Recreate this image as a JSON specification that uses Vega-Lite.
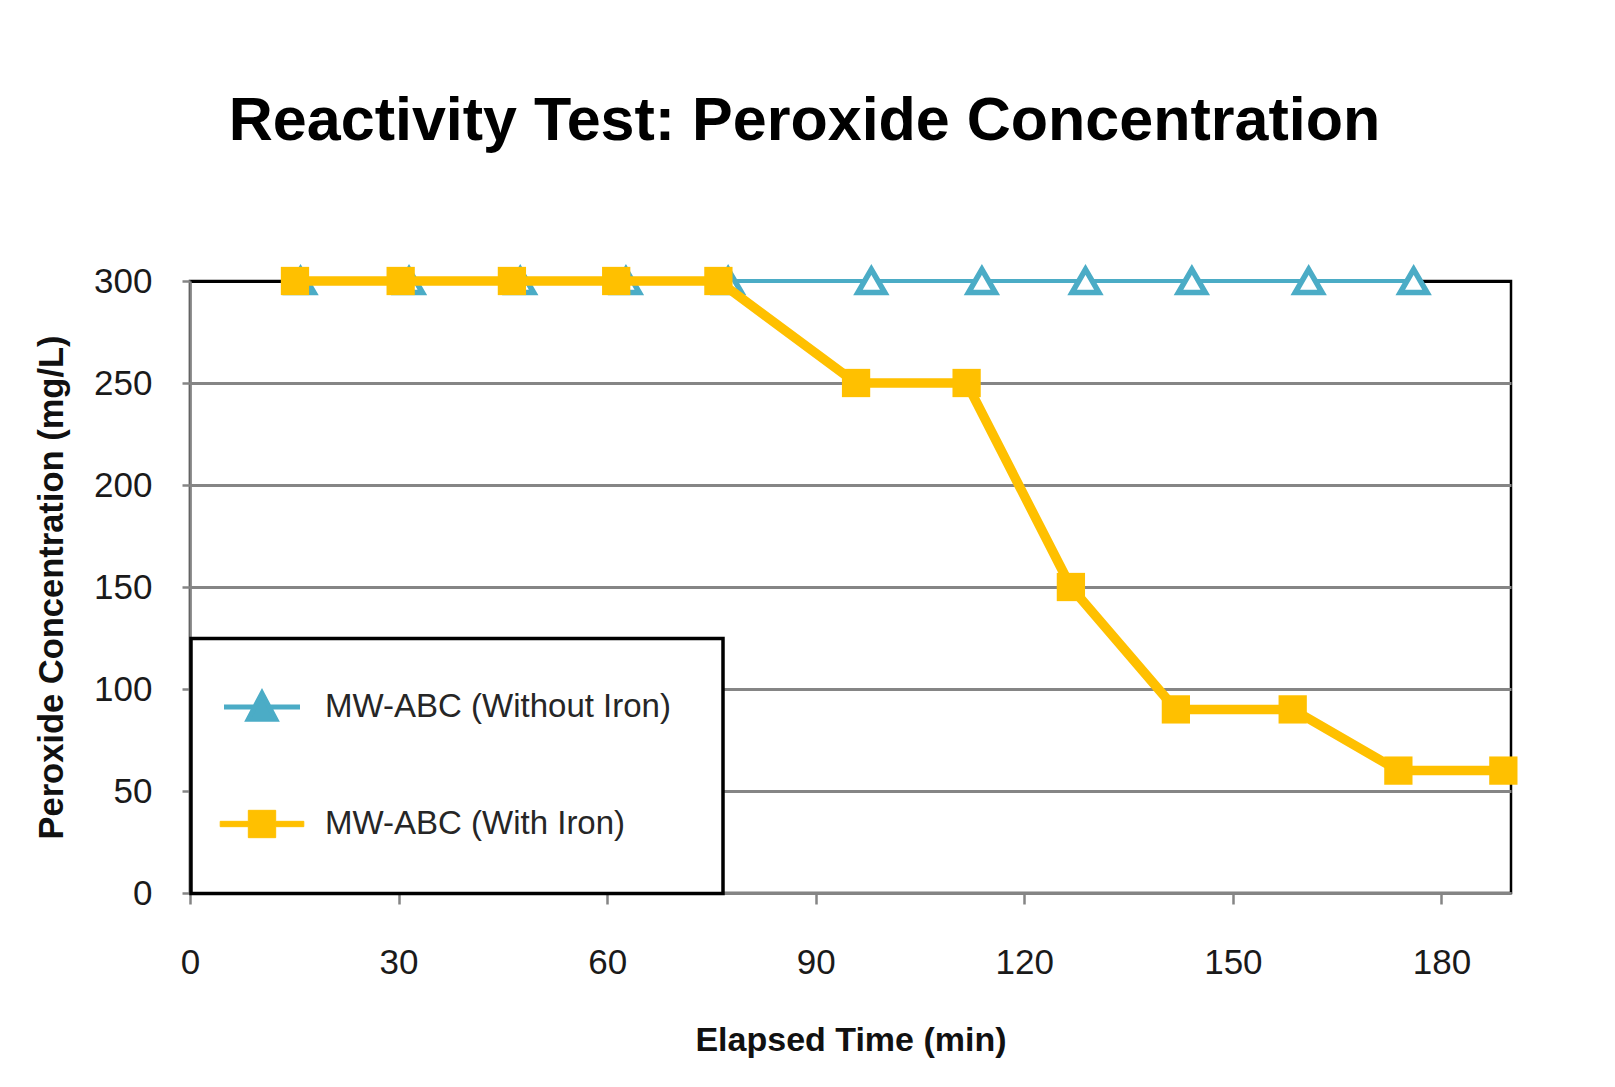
{
  "$schema": "https://vega.github.io/schema/vega-lite/v6.json",
  "width": 1321,
  "height": 612,
  "padding": {"left": 34, "top": 91, "right": 106, "bottom": 30},
  "background": "white",
  "title": {
    "text": "Reactivity Test: Peroxide Concentration",
    "font": "Liberation Sans",
    "fontSize": 61,
    "fontWeight": "bold",
    "color": "black",
    "anchor": "middle",
    "frame": "group",
    "dx": -46,
    "offset": 105
  },
  "data": {
    "values": [
      {"series": "MW-ABC (Without Iron)", "time": 15.9, "conc": 300},
      {"series": "MW-ABC (Without Iron)", "time": 31.5, "conc": 300},
      {"series": "MW-ABC (Without Iron)", "time": 47.5, "conc": 300},
      {"series": "MW-ABC (Without Iron)", "time": 62.7, "conc": 300},
      {"series": "MW-ABC (Without Iron)", "time": 77.4, "conc": 300},
      {"series": "MW-ABC (Without Iron)", "time": 98.0, "conc": 300},
      {"series": "MW-ABC (Without Iron)", "time": 113.9, "conc": 300},
      {"series": "MW-ABC (Without Iron)", "time": 128.8, "conc": 300},
      {"series": "MW-ABC (Without Iron)", "time": 144.1, "conc": 300},
      {"series": "MW-ABC (Without Iron)", "time": 160.9, "conc": 300},
      {"series": "MW-ABC (Without Iron)", "time": 176.0, "conc": 300},
      {"series": "MW-ABC (With Iron)", "time": 15.1, "conc": 300},
      {"series": "MW-ABC (With Iron)", "time": 30.3, "conc": 300},
      {"series": "MW-ABC (With Iron)", "time": 46.3, "conc": 300},
      {"series": "MW-ABC (With Iron)", "time": 61.3, "conc": 300},
      {"series": "MW-ABC (With Iron)", "time": 76.0, "conc": 300},
      {"series": "MW-ABC (With Iron)", "time": 95.8, "conc": 250},
      {"series": "MW-ABC (With Iron)", "time": 111.7, "conc": 250},
      {"series": "MW-ABC (With Iron)", "time": 126.7, "conc": 150},
      {"series": "MW-ABC (With Iron)", "time": 141.8, "conc": 90},
      {"series": "MW-ABC (With Iron)", "time": 158.6, "conc": 90},
      {"series": "MW-ABC (With Iron)", "time": 173.8, "conc": 60},
      {"series": "MW-ABC (With Iron)", "time": 188.9, "conc": 60}
    ]
  },
  "encoding": {
    "x": {
      "field": "time",
      "type": "quantitative",
      "scale": {"domain": [0, 190], "nice": false, "zero": false},
      "axis": {
        "title": "Elapsed Time (min)",
        "values": [0, 30, 60, 90, 120, 150, 180],
        "grid": false,
        "domainColor": "#858585",
        "domainWidth": 2.5,
        "tickColor": "#858585",
        "tickWidth": 2.5,
        "tickSize": 11,
        "labelPadding": 41,
        "labelFont": "Liberation Sans",
        "labelFontSize": 35,
        "labelColor": "#1a1a1a",
        "labelFlush": false,
        "titleFont": "Liberation Sans",
        "titleFontSize": 34,
        "titleFontWeight": "bold",
        "titleColor": "#111111",
        "titlePadding": 43
      }
    },
    "y": {
      "field": "conc",
      "type": "quantitative",
      "scale": {"domain": [0, 300], "nice": false},
      "axis": {
        "title": "Peroxide Concentration (mg/L)",
        "values": [0, 50, 100, 150, 200, 250, 300],
        "grid": true,
        "gridColor": {"condition": {"test": "datum.value === 300", "value": "black"}, "value": "#858585"},
        "gridWidth": 2.8,
        "domainColor": "#858585",
        "domainWidth": 2.5,
        "tickColor": "#858585",
        "tickWidth": 2.5,
        "tickSize": 8,
        "labelPadding": 30,
        "labelFont": "Liberation Sans",
        "labelFontSize": 35,
        "labelColor": "#1a1a1a",
        "labelFlush": false,
        "titleFont": "Liberation Sans",
        "titleFontSize": 34.5,
        "titleFontWeight": "bold",
        "titleColor": "#111111",
        "titlePadding": 24
      }
    },
    "color": {
      "field": "series",
      "type": "nominal",
      "scale": {
        "domain": ["MW-ABC (Without Iron)", "MW-ABC (With Iron)"],
        "range": ["#4BACC6", "#FFC000"]
      },
      "legend": {
        "title": null,
        "orient": "none",
        "legendX": 1,
        "legendY": 357.5,
        "fillColor": "white",
        "strokeColor": "black",
        "padding": 52,
        "rowPadding": 78,
        "symbolSize": 5776,
        "symbolOffset": 2.5,
        "labelOffset": 46.5,
        "labelFont": "Liberation Sans",
        "labelFontSize": 33,
        "labelColor": "#262626",
        "labelLimit": 600,
        "encode": {
          "legend": {
            "update": {
              "strokeWidth": {"value": 3.5}
            }
          },
          "symbols": {
            "update": {
              "shape": {"signal": "datum.value === 'MW-ABC (Without Iron)' ? 'M-1,0H-0.17M0.17,0H1M0,-0.36L0.36,0.32H-0.36Z' : 'M-1.1,-0.07H-0.36V-0.36H0.36V-0.07H1.1V0.07H0.36V0.36H-0.36V0.07H-1.1Z'"},
              "fill": {"signal": "datum.value === 'MW-ABC (Without Iron)' ? 'white' : '#FFC000'"},
              "stroke": {"signal": "datum.value === 'MW-ABC (Without Iron)' ? '#4BACC6' : '#FFC000'"},
              "strokeWidth": {"signal": "datum.value === 'MW-ABC (Without Iron)' ? 5 : 1"},
              "opacity": {"value": 1}
            }
          }
        }
      }
    }
  },
  "layer": [
    {
      "transform": [{"filter": "datum.series === 'MW-ABC (Without Iron)'"}],
      "mark": {"type": "line", "strokeWidth": 4}
    },
    {
      "transform": [{"filter": "datum.series === 'MW-ABC (Without Iron)'"}],
      "mark": {"type": "point", "shape": "triangle-up", "filled": false, "fill": "white", "strokeWidth": 5.5, "size": 720, "opacity": 1}
    },
    {
      "transform": [{"filter": "datum.series === 'MW-ABC (With Iron)'"}],
      "mark": {"type": "line", "strokeWidth": 9.5}
    },
    {
      "transform": [{"filter": "datum.series === 'MW-ABC (With Iron)'"}],
      "mark": {"type": "square", "filled": true, "size": 800, "opacity": 1}
    }
  ],
  "config": {
    "view": {"stroke": "black", "strokeWidth": 2.5},
    "font": "Liberation Sans"
  }
}
